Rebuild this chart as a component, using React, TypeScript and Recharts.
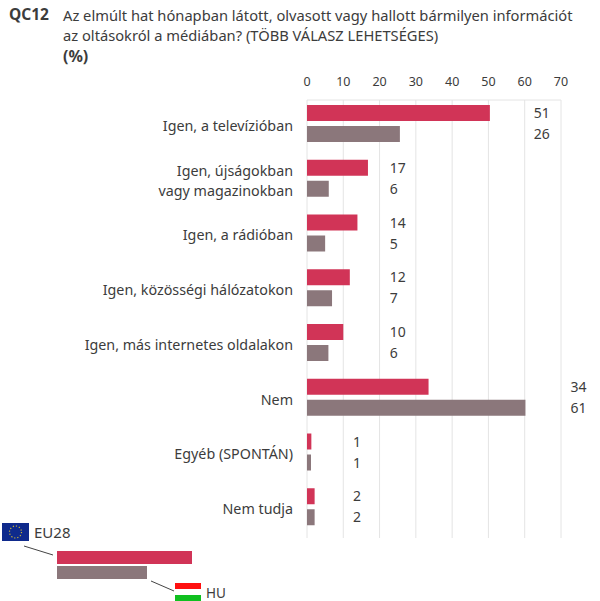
import { Bar, BarChart, CartesianGrid, LabelList, XAxis, YAxis } from 'recharts';

const categories = [
  'Igen, a televízióban',
  'Igen, újságokban|vagy magazinokban',
  'Igen, a rádióban',
  'Igen, közösségi hálózatokon',
  'Igen, más internetes oldalakon',
  'Nem',
  'Egyéb (SPONTÁN)',
  'Nem tudja',
];
// bar lengths as drawn in the picture
const eu28Bars = [50.4, 16.8, 13.9, 11.8, 10, 33.5, 1.2, 2.1];
const huBars = [25.6, 6, 5, 6.9, 5.9, 60.2, 1.1, 2.1];
// printed labels
const eu28Labels = [51, 17, 14, 12, 10, 34, 1, 2];
const huLabels = [26, 6, 5, 7, 6, 61, 1, 2];
const xTicks = [0, 10, 20, 30, 40, 50, 60, 70];

const FONT = '"Noto Sans", sans-serif';
const RED = '#d13457';
const GREY = '#8b777b';
const TEXT = '#3c3c3c';

// where the value labels sit, in axis units
const labelColumn = [62.5, 22.8, 22.8, 22.8, 22.8, 72.6, 12.7, 12.7];

const data = categories.map((name, i) => ({ name, eu28: eu28Bars[i], hu: huBars[i] }));

function CategoryTick({ x, y, payload }: any) {
  const lines = String(payload.value).split('|');
  return (
    <text x={x} y={y} textAnchor="end" fontSize={14.3} fontFamily={FONT} fill={TEXT}>
      {lines.map((l: string, i: number) => (
        <tspan key={l} x={x} dy={i === 0 ? (lines.length > 1 ? -2.5 : 7.5) : 20}>{l}</tspan>
      ))}
    </text>
  );
}

function valueLabel(labels: number[]) {
  return ({ x, y, width, height, index, value }: any) => (
    <text
      x={x + (labelColumn[index] * width) / value}
      y={y + height / 2 + 5}
      fontSize={14}
      fontFamily={FONT}
      fill={TEXT}
    >
      {labels[index]}
    </text>
  );
}

export default function App() {
  return (
    <div style={{ position: 'absolute', left: 0, top: 0, width: 600, height: 601, fontFamily: FONT, color: TEXT, background: '#fff' }}>
      <div style={{ position: 'absolute', left: 9, top: 4, fontSize: 15.5, fontWeight: 700, lineHeight: '20px' }}>QC12</div>
      <div style={{ position: 'absolute', left: 63, top: 5, width: 530, fontSize: 14.7, lineHeight: '20px', whiteSpace: 'nowrap' }}>
        Az elmúlt hat hónapban látott, olvasott vagy hallott bármilyen információt<br />
        az oltásokról a médiában? (TÖBB VÁLASZ LEHETSÉGES)
      </div>
      <div style={{ position: 'absolute', left: 63, top: 46, fontSize: 16, fontWeight: 700, lineHeight: '20px' }}>(%)</div>

      <div style={{ position: 'absolute', left: 0, top: 0 }}>
        <BarChart
          width={600}
          height={601}
          data={data}
          layout="vertical"
          margin={{ top: 70, right: 39, bottom: 63, left: 0 }}
          barSize={16}
          barGap={5}
        >
          <CartesianGrid horizontal={false} stroke="#e4e4e4" />
          <XAxis
            type="number"
            orientation="top"
            domain={[0, 70]}
            ticks={xTicks}
            tick={{ fontSize: 12.5, fontFamily: FONT, fill: TEXT }}
            tickLine={false}
            axisLine={{ stroke: '#e4e4e4' }}
            tickMargin={8}
            height={30}
          />
          <YAxis
            type="category"
            dataKey="name"
            width={307}
            tick={<CategoryTick />}
            tickLine={false}
            axisLine={false}
            tickMargin={8}
            interval={0}
            padding={{ top: -4, bottom: 4 }}
          />
          <Bar dataKey="eu28" fill={RED} isAnimationActive={false}>
            <LabelList content={valueLabel(eu28Labels)} />
          </Bar>
          <Bar dataKey="hu" fill={GREY} isAnimationActive={false}>
            <LabelList content={valueLabel(huLabels)} />
          </Bar>
        </BarChart>
      </div>

      {/* legend key */}
      <svg width={600} height={601} style={{ position: 'absolute', left: 0, top: 0, pointerEvents: 'none' }}>
        <rect x={2} y={523} width={27} height={18} fill="#0f2a8c" />
        <circle cx={15.5} cy={532} r={6} fill="none" stroke="#c9b53a" strokeWidth={1.2} strokeDasharray="1.2 1.9" />
        <text x={34} y={538} fontSize={15} fontFamily={FONT} fill={TEXT}>EU28</text>
        <line x1={24} y1={546} x2={53} y2={555} stroke="#444" strokeWidth={1} />
        <rect x={57} y={551} width={135} height={13} fill={RED} />
        <rect x={57} y={566} width={90} height={13} fill={GREY} />
        <line x1={151} y1={581} x2={174} y2={591} stroke="#444" strokeWidth={1} />
        <rect x={175} y={583} width={26} height={6} fill="#ff1010" />
        <rect x={175} y={595} width={26} height={6} fill="#10c020" />
        <text x={206} y={598} fontSize={13.5} fontFamily={FONT} fill={TEXT}>HU</text>
      </svg>
    </div>
  );
}
